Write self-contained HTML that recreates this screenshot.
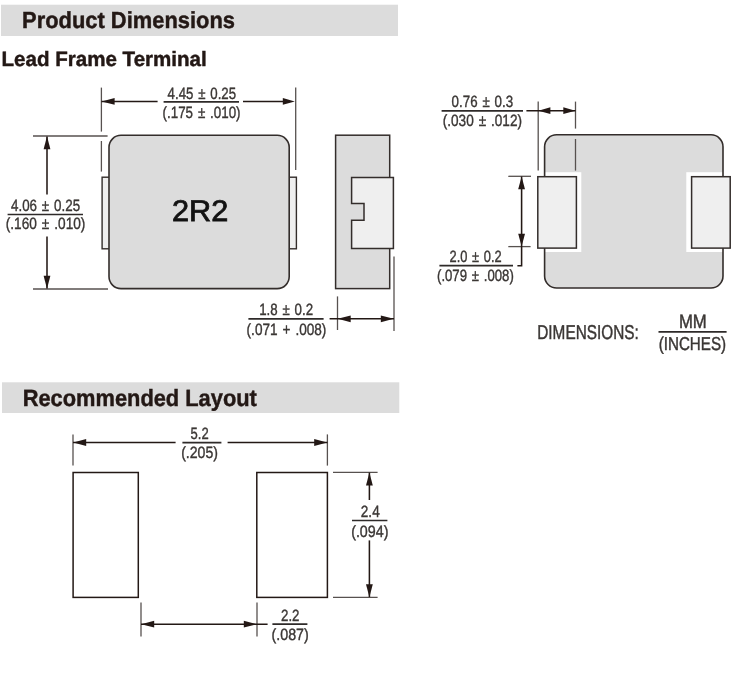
<!DOCTYPE html>
<html lang="en">
<head>
<meta charset="utf-8">
<title>Product Dimensions</title>
<style>
html,body{margin:0;padding:0;background:#fff;}
body{width:750px;height:698px;overflow:hidden;}
svg{display:block;will-change:transform;filter:blur(0.35px);}
svg text{font-family:"Liberation Sans",sans-serif;text-rendering:geometricPrecision;}
</style>
</head>
<body>
<svg width="750" height="698" viewBox="0 0 750 698">
<rect x="0" y="0" width="750" height="698" fill="#fff"/>
<g>
<rect x="1" y="4.7" width="397" height="31.3" fill="#dcdcdc"/>
<rect x="2" y="382.3" width="397.3" height="30.7" fill="#dcdcdc"/>
<rect x="102.1" y="177.2" width="8" height="71.6" fill="#efefef" stroke="#332d2b" stroke-width="1.4"/>
<rect x="288" y="177.2" width="8.4" height="71.6" fill="#efefef" stroke="#332d2b" stroke-width="1.4"/>
<rect x="109" y="135.3" width="180.2" height="153.3" rx="12" fill="#dcdcdc" stroke="#332d2b" stroke-width="1.6"/>
<line x1="101.4" y1="87.6" x2="101.4" y2="131.6" stroke="#57514f" stroke-width="1.3"/>
<line x1="101.4" y1="141" x2="101.4" y2="171.6" stroke="#57514f" stroke-width="1.3"/>
<line x1="295.7" y1="87.6" x2="295.7" y2="170" stroke="#57514f" stroke-width="1.3"/>
<line x1="101.4" y1="101.4" x2="157.6" y2="101.4" stroke="#231815" stroke-width="1.55"/>
<line x1="243" y1="101.4" x2="290" y2="101.4" stroke="#231815" stroke-width="1.55"/>
<polygon points="101.6,101.4 114.6,98 114.6,104.8" fill="#231815"/>
<polygon points="294.8,101.4 282.8,98 282.8,104.8" fill="#231815"/>
<line x1="33" y1="136" x2="107.6" y2="136" stroke="#57514f" stroke-width="1.3"/>
<line x1="33" y1="289" x2="108" y2="289" stroke="#57514f" stroke-width="1.3"/>
<line x1="47" y1="136.5" x2="47" y2="194.4" stroke="#231815" stroke-width="1.55"/>
<line x1="47" y1="236.4" x2="47" y2="288.6" stroke="#231815" stroke-width="1.55"/>
<polygon points="47,136.3 43.6,149.3 50.4,149.3" fill="#231815"/>
<polygon points="47,288.8 43.6,275.8 50.4,275.8" fill="#231815"/>
<rect x="335.6" y="135.2" width="54.1" height="153.4" fill="#dcdcdc" stroke="#332d2b" stroke-width="1.5"/>
<path d="M351.6 177.4 H393.4 V248.6 H351.6 V220.2 H364 V203.4 H351.6 Z" fill="#efefef" stroke="#332d2b" stroke-width="1.5"/>
<line x1="337.5" y1="296.4" x2="337.5" y2="330" stroke="#57514f" stroke-width="1.3"/>
<line x1="394" y1="256.4" x2="394" y2="331" stroke="#57514f" stroke-width="1.3"/>
<line x1="329.6" y1="318.8" x2="394" y2="318.8" stroke="#231815" stroke-width="1.55"/>
<polygon points="337.7,318.8 350.7,315.4 350.7,322.2" fill="#231815"/>
<polygon points="393.8,318.8 380.8,315.4 380.8,322.2" fill="#231815"/>
<rect x="544.6" y="134.8" width="178.4" height="153.2" rx="12" fill="#dcdcdc"/>
<rect x="544.6" y="172.2" width="36.7" height="79.8" fill="#fff"/>
<rect x="686.3" y="172.2" width="36.7" height="79.8" fill="#fff"/>
<rect x="544.6" y="134.8" width="178.4" height="153.2" rx="12" fill="none" stroke="#332d2b" stroke-width="1.6"/>
<rect x="537.8" y="176.7" width="38.6" height="71.4" fill="#efefef" stroke="#332d2b" stroke-width="1.5"/>
<rect x="691.6" y="176.7" width="38.6" height="71.4" fill="#efefef" stroke="#332d2b" stroke-width="1.5"/>
<line x1="538.2" y1="101.6" x2="538.2" y2="170.4" stroke="#57514f" stroke-width="1.3"/>
<line x1="575.5" y1="101.6" x2="575.5" y2="128.6" stroke="#57514f" stroke-width="1.3"/>
<line x1="575.5" y1="139" x2="575.5" y2="170.6" stroke="#57514f" stroke-width="1.3"/>
<line x1="526.4" y1="110.7" x2="575.5" y2="110.7" stroke="#231815" stroke-width="1.55"/>
<polygon points="538.4,110.7 550.4,107.3 550.4,114.1" fill="#231815"/>
<polygon points="575.3,110.7 563.3,107.3 563.3,114.1" fill="#231815"/>
<line x1="508.3" y1="176.3" x2="531" y2="176.3" stroke="#57514f" stroke-width="1.3"/>
<line x1="508.3" y1="246.6" x2="530.6" y2="246.6" stroke="#57514f" stroke-width="1.3"/>
<path d="M521.6 176.6 V265.8 H517.4" fill="none" stroke="#231815" stroke-width="1.55"/>
<polygon points="521.6,176.4 518.2,189.2 525,189.2" fill="#231815"/>
<polygon points="521.6,246.6 518.2,233.8 525,233.8" fill="#231815"/>
<line x1="658.5" y1="331.9" x2="726.6" y2="331.9" stroke="#2e2a29" stroke-width="1.7"/>
<line x1="163.6" y1="101.8" x2="239" y2="101.8" stroke="#2e2a29" stroke-width="1.7"/>
<line x1="7.6" y1="214.5" x2="83" y2="214.5" stroke="#2e2a29" stroke-width="1.7"/>
<line x1="248.4" y1="318.9" x2="323.6" y2="318.9" stroke="#2e2a29" stroke-width="1.7"/>
<line x1="441.6" y1="110.9" x2="523" y2="110.9" stroke="#2e2a29" stroke-width="1.7"/>
<line x1="439.4" y1="265.7" x2="513" y2="265.7" stroke="#2e2a29" stroke-width="1.7"/>
<line x1="182.4" y1="442.7" x2="221.4" y2="442.7" stroke="#2e2a29" stroke-width="1.7"/>
<line x1="352" y1="520.5" x2="387.4" y2="520.5" stroke="#2e2a29" stroke-width="1.7"/>
<line x1="272.4" y1="624.1" x2="307.4" y2="624.1" stroke="#2e2a29" stroke-width="1.7"/>
<rect x="73.1" y="472.5" width="65.2" height="124.9" fill="#fff" stroke="#231815" stroke-width="1.5"/>
<rect x="256.8" y="472.5" width="70.6" height="124.9" fill="#fff" stroke="#231815" stroke-width="1.5"/>
<line x1="73" y1="434.4" x2="73" y2="465.6" stroke="#57514f" stroke-width="1.3"/>
<line x1="327.4" y1="434.4" x2="327.4" y2="465.6" stroke="#57514f" stroke-width="1.3"/>
<line x1="73" y1="442.5" x2="175.6" y2="442.5" stroke="#231815" stroke-width="1.55"/>
<line x1="227.6" y1="442.5" x2="327.4" y2="442.5" stroke="#231815" stroke-width="1.55"/>
<polygon points="73.2,442.5 86.2,439.1 86.2,445.9" fill="#231815"/>
<polygon points="327.2,442.5 314.2,439.1 314.2,445.9" fill="#231815"/>
<line x1="333" y1="472.4" x2="377.6" y2="472.4" stroke="#57514f" stroke-width="1.3"/>
<line x1="333" y1="597.4" x2="377.6" y2="597.4" stroke="#57514f" stroke-width="1.3"/>
<line x1="369.4" y1="472.6" x2="369.4" y2="500" stroke="#231815" stroke-width="1.55"/>
<line x1="369.4" y1="540.4" x2="369.4" y2="597" stroke="#231815" stroke-width="1.55"/>
<polygon points="369.4,472.6 366,485.6 372.8,485.6" fill="#231815"/>
<polygon points="369.4,597.2 366,584.2 372.8,584.2" fill="#231815"/>
<line x1="141" y1="602.6" x2="141" y2="636.4" stroke="#57514f" stroke-width="1.3"/>
<line x1="257" y1="602.6" x2="257" y2="636.4" stroke="#57514f" stroke-width="1.3"/>
<line x1="141" y1="624.2" x2="267.6" y2="624.2" stroke="#231815" stroke-width="1.55"/>
<polygon points="141.2,624.2 154.2,620.8 154.2,627.6" fill="#231815"/>
<polygon points="256.8,624.2 243.8,620.8 243.8,627.6" fill="#231815"/>
</g>
<g>
<text transform="translate(22.06 28.4) scale(0.9444 1)" font-size="23.19" font-weight="bold" fill="#231815" stroke="#231815" stroke-width="0.45">Product Dimensions</text>
<text transform="translate(1.51 65.5) scale(0.9921 1)" font-size="20.72" font-weight="bold" fill="#231815" stroke="#231815" stroke-width="0.45">Lead Frame Terminal</text>
<text transform="translate(22.67 406) scale(0.9304 1)" font-size="23.48" font-weight="bold" fill="#231815" stroke="#231815" stroke-width="0.45">Recommended Layout</text>
<text transform="translate(171.97 221.3) scale(1.0273 1)" font-size="29.86" fill="#121212" stroke="#121212" stroke-width="0.8">2R2</text>
<text transform="translate(537.23 338.8) scale(0.7680 1)" font-size="20" fill="#3b3735" stroke="#3b3735" stroke-width="0.45">DIMENSIONS:</text>
<text transform="translate(678.94 327.6) scale(0.8619 1)" font-size="19.42" fill="#3b3735" stroke="#3b3735" stroke-width="0.45">MM</text>
<text transform="translate(658.68 350) scale(0.8184 1)" font-size="18.55" fill="#3b3735" stroke="#3b3735" stroke-width="0.45">(INCHES)</text>
<text word-spacing="1.4" transform="translate(167.6 98.5) scale(0.8099 1)" font-size="16.38" fill="#3b3735" stroke="#3b3735" stroke-width="0.38">4.45 ± 0.25</text>
<text word-spacing="1.4" transform="translate(162.58 117.5) scale(0.8170 1)" font-size="16.38" fill="#3b3735" stroke="#3b3735" stroke-width="0.38">(.175 ± .010)</text>
<text word-spacing="1.4" transform="translate(11 211.2) scale(0.8170 1)" font-size="16.38" fill="#3b3735" stroke="#3b3735" stroke-width="0.38">4.06 ± 0.25</text>
<text word-spacing="1.4" transform="translate(5.77 229.3) scale(0.8341 1)" font-size="16.38" fill="#3b3735" stroke="#3b3735" stroke-width="0.38">(.160 ± .010)</text>
<text word-spacing="1.4" transform="translate(259.19 315.3) scale(0.8122 1)" font-size="16.38" fill="#3b3735" stroke="#3b3735" stroke-width="0.38">1.8 ± 0.2</text>
<text word-spacing="1.4" transform="translate(246.57 334.7) scale(0.8311 1)" font-size="16.38" fill="#3b3735" stroke="#3b3735" stroke-width="0.38">(.071 + .008)</text>
<text word-spacing="1.4" transform="translate(451.6 107.3) scale(0.8148 1)" font-size="16.38" fill="#3b3735" stroke="#3b3735" stroke-width="0.38">0.76 ± 0.3</text>
<text word-spacing="1.4" transform="translate(442.77 126.3) scale(0.8298 1)" font-size="16.38" fill="#3b3735" stroke="#3b3735" stroke-width="0.38">(.030 ± .012)</text>
<text word-spacing="1.4" transform="translate(449.6 262.2) scale(0.7849 1)" font-size="16.38" fill="#3b3735" stroke="#3b3735" stroke-width="0.38">2.0 ± 0.2</text>
<text word-spacing="1.4" transform="translate(437 281.4) scale(0.8043 1)" font-size="16.38" fill="#3b3735" stroke="#3b3735" stroke-width="0.38">(.079 ± .008)</text>
<text transform="translate(190.6 439.3) scale(0.7949 1)" font-size="16.38" fill="#3b3735" stroke="#3b3735" stroke-width="0.38">5.2</text>
<text transform="translate(181.14 458.4) scale(0.8622 1)" font-size="16.38" fill="#3b3735" stroke="#3b3735" stroke-width="0.38">(.205)</text>
<text transform="translate(360.8 516.6) scale(0.8303 1)" font-size="16.38" fill="#3b3735" stroke="#3b3735" stroke-width="0.38">2.4</text>
<text transform="translate(351.13 536.7) scale(0.8719 1)" font-size="16.38" fill="#3b3735" stroke="#3b3735" stroke-width="0.38">(.094)</text>
<text transform="translate(281 620.8) scale(0.8126 1)" font-size="16.38" fill="#3b3735" stroke="#3b3735" stroke-width="0.38">2.2</text>
<text transform="translate(271.53 640) scale(0.8719 1)" font-size="16.38" fill="#3b3735" stroke="#3b3735" stroke-width="0.38">(.087)</text>
</g>
</svg>
</body>
</html>
